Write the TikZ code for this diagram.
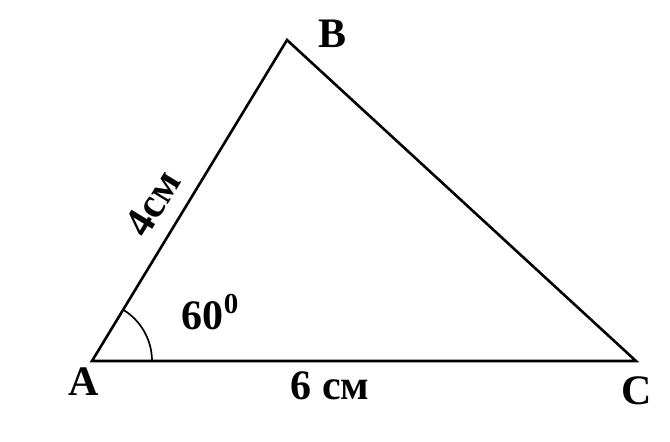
\documentclass[tikz,border=0pt]{standalone}
\usepackage{fontspec}
\setmainfont{Liberation Serif}
\usetikzlibrary{positioning}

\begin{document}
\begin{tikzpicture}[x=1pt,y=-1pt,line join=miter,
                    side/.style={line width=2.6pt},
                    lbl/.style={font=\fontsize{42}{44}\selectfont\bfseries,inner sep=0pt},
                    note/.style={font=\fontsize{42}{44}\selectfont\bfseries,inner sep=0pt}]
  \useasboundingbox (0,0) rectangle (670,442);

  \coordinate (A) at (92,361);
  \coordinate (B) at (287,40);
  \coordinate (C) at (636,361);

  \draw[side] (A) -- (B) -- (C) -- cycle;
  % angle mark at A
  \draw[line width=1.7pt] ([xshift=60pt]A) arc[start angle=0,end angle=-58.7,radius=60];

  \node[lbl] (lA) at (84,382) {A};
  \node[lbl] (lB) at (333,34) {B};
  \node[lbl] (lC) at (637,391) {C};

  \node[note,rotate=58.7] (ab) at (153,203) {4см};
  \node[note] (ac) at (330,386) {6 см};
  \node[note] (ang) at (210,312) {60\raisebox{0.4em}{\fontsize{29}{30}\selectfont 0}};
\end{tikzpicture}
\end{document}
